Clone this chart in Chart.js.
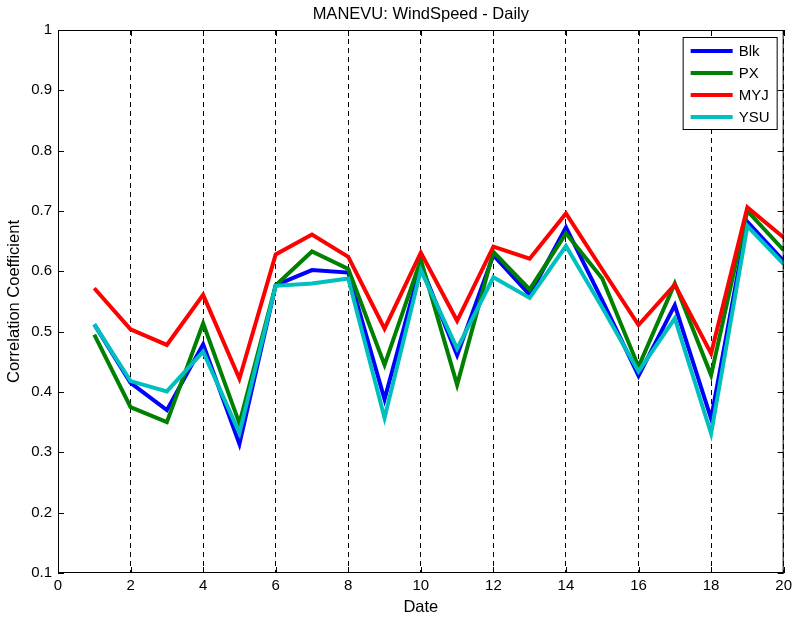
<!DOCTYPE html>
<html>
<head>
<meta charset="utf-8">
<script src="https://cdn.jsdelivr.net/npm/chart.js@4"></script>
<style>
  html, body { margin: 0; padding: 0; background: #fff; }
  #wrap { width: 796px; height: 619px; }
</style>
</head>
<body>
<div id="wrap"><canvas id="chart1" width="796" height="619"></canvas></div>
<script>
// days 1..20
const days = [1, 2, 3, 4, 5, 6, 7, 8, 9, 10, 11, 12, 13, 14, 15, 16, 17, 18, 19, 20];

// correlation coefficients
const blk = [0.512, 0.415, 0.370, 0.479, 0.314, 0.577, 0.602, 0.598, 0.388, 0.610, 0.461, 0.627, 0.561, 0.673, 0.552, 0.427, 0.544, 0.356, 0.682, 0.617];
const px  = [0.495, 0.375, 0.350, 0.514, 0.348, 0.577, 0.633, 0.604, 0.445, 0.619, 0.412, 0.632, 0.570, 0.663, 0.588, 0.442, 0.580, 0.428, 0.700, 0.635];
const myj = [0.572, 0.504, 0.478, 0.561, 0.422, 0.628, 0.661, 0.624, 0.505, 0.631, 0.518, 0.641, 0.621, 0.696, 0.603, 0.511, 0.578, 0.464, 0.706, 0.656];
const ysu = [0.512, 0.418, 0.401, 0.467, 0.332, 0.576, 0.580, 0.588, 0.357, 0.602, 0.472, 0.590, 0.556, 0.642, 0.540, 0.434, 0.522, 0.331, 0.675, 0.612];

const xTicks = [0, 2, 4, 6, 8, 10, 12, 14, 16, 18, 20];
const yTicks = [0.1, 0.2, 0.3, 0.4, 0.5, 0.6, 0.7, 0.8, 0.9, 1];

const chartTitle = "MANEVU: WindSpeed - Daily";
const fontName = "'Liberation Sans', Arial, sans-serif";

function pts(vals) {
    return days.map((d, i) => ({ x: d, y: vals[i] }));
}

// title over the plot, box, inward ticks and legend inside the plot, matlab style
const matlabAxes = {
    id: "matlabAxes",
    afterDraw(chart) {
        const ctx = chart.ctx;
        const a = chart.chartArea;
        const xs = chart.scales.x;
        const ys = chart.scales.y;
        ctx.save();

        ctx.fillStyle = "#000";
        ctx.font = "16.5px " + fontName;
        ctx.textAlign = "center";
        ctx.textBaseline = "middle";
        ctx.fillText(chartTitle, (a.left + a.right) / 2, a.top - 16);

        ctx.strokeStyle = "#000";
        ctx.lineWidth = 1;
        ctx.strokeRect(a.left + 0.5, a.top + 0.5, a.right - a.left - 1, a.bottom - a.top - 1);
        ctx.beginPath();
        xTicks.forEach((t) => {
            const px = Math.round(xs.getPixelForValue(t)) + 0.5;
            ctx.moveTo(px, a.bottom);
            ctx.lineTo(px, a.bottom - 6);
            ctx.moveTo(px, a.top);
            ctx.lineTo(px, a.top + 6);
        });
        yTicks.forEach((t) => {
            const py = Math.round(ys.getPixelForValue(t)) + 0.5;
            ctx.moveTo(a.left, py);
            ctx.lineTo(a.left + 6, py);
            ctx.moveTo(a.right, py);
            ctx.lineTo(a.right - 6, py);
        });
        ctx.stroke();

        // legend
        const bw = 94, rowH = 22;
        const bx = a.right - 7 - bw;
        const by = a.top + 7;
        const sets = chart.data.datasets;
        const bh = sets.length * rowH + 4;
        ctx.fillStyle = "#fff";
        ctx.fillRect(bx, by, bw, bh);
        ctx.strokeStyle = "#000";
        ctx.strokeRect(bx + 0.5, by + 0.5, bw, bh);
        ctx.font = "15px " + fontName;
        ctx.textBaseline = "middle";
        ctx.textAlign = "left";
        sets.forEach((ds, i) => {
            const cy = by + 14 + i * rowH;
            ctx.strokeStyle = ds.borderColor;
            ctx.lineWidth = 4;
            ctx.beginPath();
            ctx.moveTo(bx + 8, cy);
            ctx.lineTo(bx + 50, cy);
            ctx.stroke();
            ctx.fillStyle = "#000";
            ctx.fillText(ds.label, bx + 56, cy + 1);
        });
        ctx.restore();
    }
};

const contexto = document.getElementById("chart1");
const chart = new Chart(contexto, {
    type: "line",
    data: {
        datasets: [
            { label: "Blk", data: pts(blk), borderColor: "#0000ff", order: 3 },
            { label: "PX",  data: pts(px),  borderColor: "#008000", order: 2 },
            { label: "MYJ", data: pts(myj), borderColor: "#ff0000", order: 1 },
            { label: "YSU", data: pts(ysu), borderColor: "#00bfbf", order: 0 },
        ],
    },
    options: {
        responsive: false,
        animation: false,
        devicePixelRatio: 1,
        layout: { padding: { left: 0, right: 9, top: 30, bottom: 0 } },
        elements: {
            line: { borderWidth: 4, tension: 0, fill: false, borderJoinStyle: "miter" },
            point: { radius: 0 },
        },
        plugins: {
            legend: { display: false },
            tooltip: { enabled: false },
            title: { display: false },
        },
        scales: {
            x: {
                type: "linear",
                min: 0,
                max: 20,
                afterBuildTicks: (s) => { s.ticks = xTicks.map((v) => ({ value: v })); },
                afterFit: (s) => { s.height = 46; },
                grid: {
                    display: true,
                    drawOnChartArea: true,
                    drawTicks: false,
                    color: "#000",
                    lineWidth: 1,
                },
                border: { display: false, dash: [5, 4] },
                ticks: {
                    color: "#000",
                    padding: 4,
                    maxRotation: 0,
                    font: { family: fontName, size: 15 },
                },
                title: {
                    display: true,
                    text: "Date",
                    color: "#000",
                    font: { family: fontName, size: 16.5 },
                    padding: { top: 0, bottom: 2 },
                },
            },
            y: {
                type: "linear",
                min: 0.1,
                max: 1,
                afterBuildTicks: (s) => { s.ticks = yTicks.map((v) => ({ value: v })); },
                afterFit: (s) => { s.width = 58; },
                grid: { display: false, drawTicks: false },
                border: { display: false },
                ticks: {
                    color: "#000",
                    padding: 6,
                    font: { family: fontName, size: 15 },
                    callback: (v) => String(Math.round(v * 10) / 10),
                },
                title: {
                    display: true,
                    text: "Correlation Coefficient",
                    color: "#000",
                    font: { family: fontName, size: 16.5 },
                    padding: { top: 5, bottom: 0 },
                },
            },
        },
    },
    plugins: [matlabAxes],
});
</script>
</body>
</html>
